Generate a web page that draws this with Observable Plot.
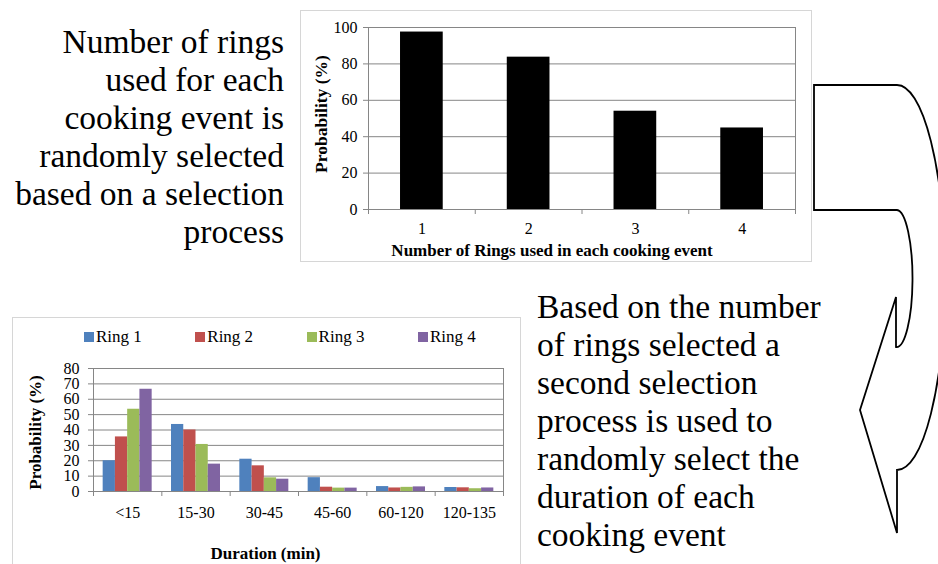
<!DOCTYPE html>
<html>
<head>
<meta charset="utf-8">
<script src="https://cdn.jsdelivr.net/npm/d3@7"></script>
<script src="https://cdn.jsdelivr.net/npm/@observablehq/plot@0.6"></script>
<style>
html, body { margin: 0; padding: 0; background: #fff; }
#page { position: relative; width: 938px; height: 564px; overflow: hidden; font-family: "Liberation Serif", "Times New Roman", serif; color: #000; background: #fff; }
.para { position: absolute; font-family: "Liberation Serif", serif; font-size: 33.5px; line-height: 38px; white-space: nowrap; }
#leftText { left: 0; top: 23px; width: 284px; text-align: right; }
#rightText { left: 537px; top: 288px; }
.box { position: absolute; border: 1px solid #d6d6d6; background: #fff; overflow: hidden; }
.layer { position: absolute; left: 0; top: 0; }
#legend { position: absolute; left: 84px; top: 327px; display: flex; font-family: "Liberation Serif", serif; font-size: 17px; line-height: 20px; white-space: nowrap; }
#legend .item { width: 111.3px; }
#legend .sw { display: inline-block; width: 10px; height: 10px; margin-right: 2px; vertical-align: baseline; }
#arrow { position: absolute; left: 0; top: 0; pointer-events: none; }
</style>
</head>
<body>
<div id="page">
  <div id="leftText" class="para"></div>
  <div id="rightText" class="para"></div>
  <div id="boxTop" class="box" style="left:300px; top:10px; width:510px; height:250px;"></div>
  <div id="boxBottom" class="box" style="left:12px; top:317px; width:507px; height:260px;"></div>
  <div id="legend"></div>
  <svg id="arrow" width="938" height="564"></svg>
</div>
<script>
// ---------- data ----------
const leftLines = ["Number of rings", "used for each", "cooking event is", "randomly selected", "based on a selection", "process"];
const rightLines = ["Based on the number", "of rings selected a", "second selection", "process is used to", "randomly select the", "duration of each", "cooking event"];

const ringCounts = ["1", "2", "3", "4"];
const ringProb = [97.5, 83.7, 54.0, 44.8];
const yTicksTop = [0, 20, 40, 60, 80, 100];
const xTitleTop = "Number of Rings used in each cooking event";
const yTitle = "Probability (%)";

const durations = ["<15", "15-30", "30-45", "45-60", "60-120", "120-135"];
const ringNames = ["Ring 1", "Ring 2", "Ring 3", "Ring 4"];
const ring1 = [20.0, 43.6, 21.0, 9.0, 3.2, 2.6];
const ring2 = [35.5, 40.0, 16.7, 2.8, 2.3, 2.4];
const ring3 = [53.5, 30.6, 8.9, 2.2, 2.7, 1.8];
const ring4 = [66.5, 17.8, 8.0, 2.2, 3.0, 2.3];
const ringColors = ["#4F81BD", "#C0504D", "#9BBB59", "#8064A2"];
const yTicksBottom = [0, 10, 20, 30, 40, 50, 60, 70, 80];
const xTitleBottom = "Duration (min)";

// ---------- text blocks ----------
document.getElementById("leftText").innerHTML = leftLines.join("<br>");
document.getElementById("rightText").innerHTML = rightLines.join("<br>");

const GRID = "#868686";
const FONT = "'Liberation Serif', 'Times New Roman', serif";

// ---------- top chart ----------
const topData = ringCounts.map((r, i) => ({rings: r, prob: ringProb[i]}));
const W1 = 510, H1 = 250, ml1 = 67, mr1 = 16, mt1 = 16, mb1 = 52;
const step1 = (W1 - ml1 - mr1) / ringCounts.length;
const topChart = Plot.plot({
  width: W1, height: H1,
  marginLeft: ml1, marginRight: mr1, marginTop: mt1, marginBottom: mb1,
  style: {fontFamily: FONT, fontSize: "16px", color: "#000", background: "transparent", overflow: "visible"},
  x: {domain: ringCounts, paddingInner: 0.6, paddingOuter: 0.3, round: false},
  y: {domain: [0, 100]},
  marks: [
    Plot.ruleY(yTicksTop.filter(d => d > 0), {stroke: GRID, strokeWidth: 1}),
    Plot.barY(topData, {x: "rings", y: "prob", fill: "#000"}),
    Plot.frame({stroke: GRID}),
    Plot.axisY({ticks: yTicksTop, tickSize: 5, tickPadding: 6, stroke: GRID, label: null, tickFormat: d => d}),
    Plot.axisX({tickSize: 0, tickPadding: 13.6, label: null}),
    Plot.ruleX(ringCounts, {x: d => d, dx: -step1 / 2, y1: 0, y2: 0, insetBottom: -5, stroke: GRID}),
    Plot.ruleX(ringCounts.slice(-1), {x: d => d, dx: step1 / 2, y1: 0, y2: 0, insetBottom: -5, stroke: GRID}),
    Plot.text([xTitleTop], {frameAnchor: "bottom", lineAnchor: "middle", dx: -30, dy: 40.6, fontWeight: "bold", fontSize: 17}),
    Plot.text([yTitle], {frameAnchor: "left", rotate: -90, textAnchor: "middle", lineAnchor: "middle", dx: -47, dy: -4.5, fontWeight: "bold", fontSize: 17.5})
  ]
});
topChart.classList.add("layer");
document.getElementById("boxTop").appendChild(topChart);

// ---------- bottom chart ----------
const series = [ring1, ring2, ring3, ring4];
const rows = [];
durations.forEach((d, i) => ringNames.forEach((r, j) => rows.push({duration: d, ring: r, value: series[j][i]})));
const W2 = 507, H2 = 250, ml2 = 80, mr2 = 17, mt2 = 50, mb2 = 77;
const step2 = (W2 - ml2 - mr2) / durations.length;
const fxPadInner = 0.283, fxPadOuter = fxPadInner / 2;

const bottomBack = Plot.plot({
  width: W2, height: H2,
  marginLeft: ml2, marginRight: mr2, marginTop: mt2, marginBottom: mb2,
  style: {fontFamily: FONT, fontSize: "16px", color: "#000", background: "transparent", overflow: "visible"},
  x: {domain: durations, paddingInner: fxPadInner, paddingOuter: fxPadOuter, round: false},
  y: {domain: [0, 80]},
  marks: [
    Plot.ruleY(yTicksBottom.filter(d => d > 0), {stroke: GRID, strokeWidth: 1}),
    Plot.frame({stroke: GRID}),
    Plot.axisY({ticks: yTicksBottom, tickSize: 5, tickPadding: 9, stroke: GRID, label: null, tickFormat: d => d}),
    Plot.axisX({tickSize: 0, tickPadding: 15.6, label: null}),
    Plot.ruleX(durations, {x: d => d, dx: -step2 / 2, y1: 0, y2: 0, insetBottom: -5, stroke: GRID}),
    Plot.ruleX(durations.slice(-1), {x: d => d, dx: step2 / 2, y1: 0, y2: 0, insetBottom: -5, stroke: GRID}),
    Plot.text([xTitleBottom], {frameAnchor: "bottom", lineAnchor: "middle", dx: -33, dy: 61.6, fontWeight: "bold", fontSize: 17}),
    Plot.text([yTitle], {frameAnchor: "left", rotate: -90, textAnchor: "middle", lineAnchor: "middle", dx: -57.5, dy: 2.5, fontWeight: "bold", fontSize: 17})
  ]
});
bottomBack.classList.add("layer");

const bottomFront = Plot.plot({
  width: W2, height: H2,
  marginLeft: ml2, marginRight: mr2, marginTop: mt2, marginBottom: mb2,
  style: {fontFamily: FONT, fontSize: "16px", background: "transparent", overflow: "visible"},
  facet: {data: rows, x: "duration"},
  fx: {domain: durations, paddingInner: fxPadInner, paddingOuter: fxPadOuter, round: false, axis: null, label: null},
  x: {domain: ringNames, padding: 0, round: false, axis: null},
  y: {domain: [0, 80], axis: null},
  color: {domain: ringNames, range: ringColors},
  marks: [
    Plot.barY(rows, {x: "ring", y: "value", fill: "ring"})
  ]
});
bottomFront.classList.add("layer");
const boxB = document.getElementById("boxBottom");
boxB.appendChild(bottomBack);
boxB.appendChild(bottomFront);

// ---------- legend ----------
const legend = document.getElementById("legend");
ringNames.forEach((r, i) => {
  const item = document.createElement("div");
  item.className = "item";
  const sw = document.createElement("span");
  sw.className = "sw";
  sw.style.background = ringColors[i];
  item.appendChild(sw);
  item.appendChild(document.createTextNode(r));
  legend.appendChild(item);
});

// ---------- decorative curved arrow ----------
const svgNS = "http://www.w3.org/2000/svg";
const arrow = document.getElementById("arrow");
const path = document.createElementNS(svgNS, "path");
path.setAttribute("d", "M814,85 H897 A48,192.5 0 0 1 897,470 V533 L860,410 L896,297 V347 A16,68.5 0 0 0 897,210 H814 Z");
path.setAttribute("fill", "#fff");
path.setAttribute("stroke", "#000");
path.setAttribute("stroke-width", "1.8");
path.setAttribute("stroke-linejoin", "miter");
arrow.appendChild(path);
</script>
</body>
</html>
